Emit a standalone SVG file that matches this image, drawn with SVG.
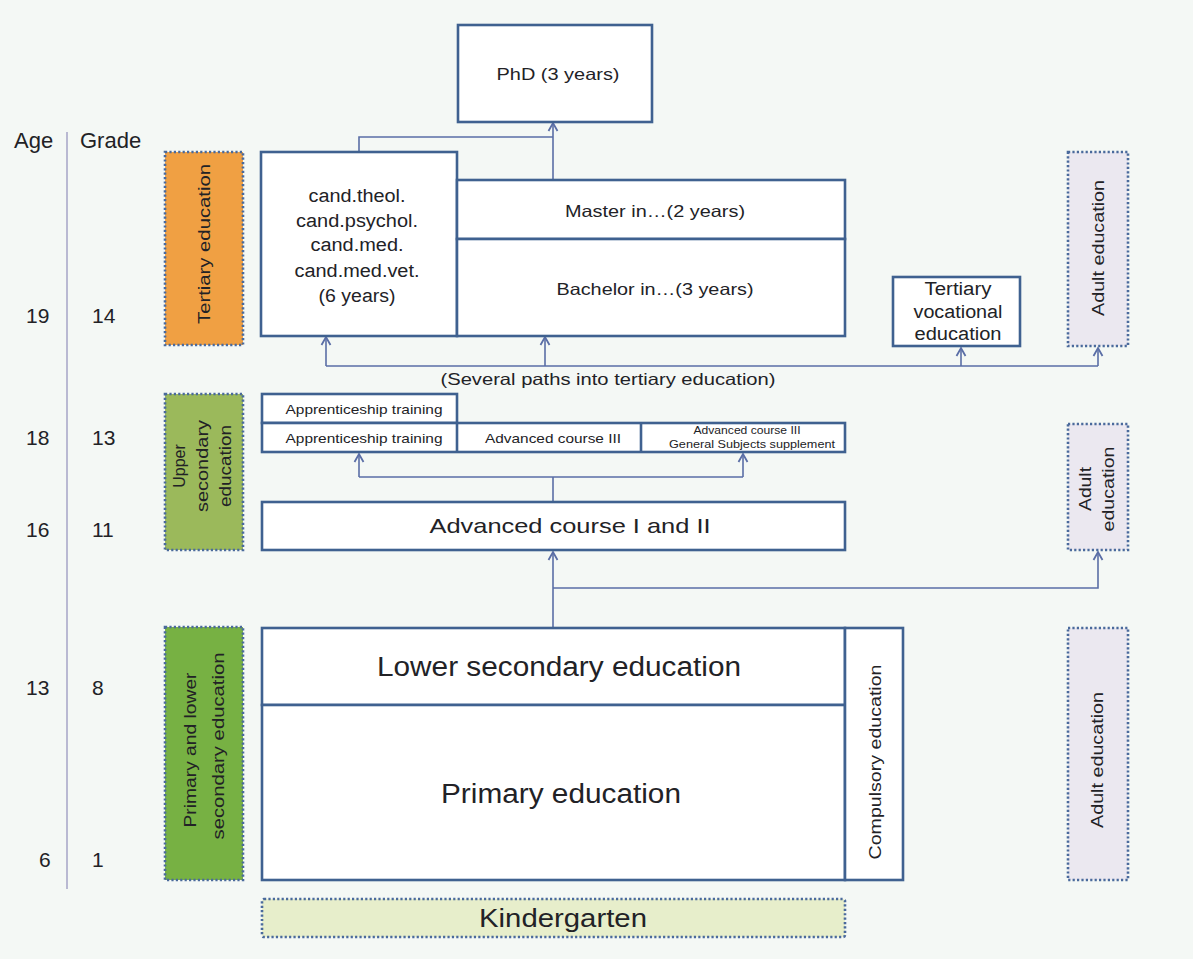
<svg xmlns="http://www.w3.org/2000/svg" width="1193" height="959" viewBox="0 0 1193 959">
<defs>
<marker id="arr" viewBox="-1 -6 11 12" markerWidth="11" markerHeight="12" refX="8" refY="0" orient="auto" markerUnits="userSpaceOnUse">
<path d="M0,-4.5 L8,0 L0,4.5" fill="none" stroke="#5a6ea6" stroke-width="1.8"/>
</marker>
</defs>
<style>
text{font-family:"Liberation Sans",Arial,sans-serif;fill:#222226}
.box{fill:#ffffff;stroke:#3f6190;stroke-width:2.6}
.dot{stroke:#4a6a9c;stroke-width:2.6;stroke-dasharray:2.2 2.2}
.con{fill:none;stroke:#5a6ea6;stroke-width:1.6}
.m{text-anchor:middle}
</style>
<rect x="0" y="0" width="1193" height="959" fill="#f4f8f5"/>

<g id="axis">
<line x1="67" y1="132" x2="67" y2="889" stroke="#b9b9d2" stroke-width="2"/>
<text x="14" y="148" font-size="22">Age</text>
<text x="80" y="148" font-size="22">Grade</text>
<text x="26" y="323" font-size="21">19</text><text x="92" y="323" font-size="21">14</text>
<text x="26" y="445" font-size="21">18</text><text x="92" y="445" font-size="21">13</text>
<text x="26" y="537" font-size="21">16</text><text x="92" y="537" font-size="21">11</text>
<text x="26" y="695" font-size="21">13</text><text x="92" y="695" font-size="21">8</text>
<text x="39" y="867" font-size="21">6</text><text x="92" y="867" font-size="21">1</text>
</g>

<g id="connectors">
<polyline class="con" points="359,152 359,137 553,137"/>
<line class="con" x1="553" y1="180" x2="553" y2="123" marker-end="url(#arr)"/>
<line class="con" x1="326" y1="366" x2="1098" y2="366"/>
<line class="con" x1="326" y1="366" x2="326" y2="337" marker-end="url(#arr)"/>
<line class="con" x1="545" y1="366" x2="545" y2="337" marker-end="url(#arr)"/>
<line class="con" x1="961" y1="366" x2="961" y2="348" marker-end="url(#arr)"/>
<line class="con" x1="1098" y1="366" x2="1098" y2="348" marker-end="url(#arr)"/>
<line class="con" x1="553" y1="501" x2="553" y2="477"/>
<line class="con" x1="359" y1="477" x2="743" y2="477"/>
<line class="con" x1="359" y1="477" x2="359" y2="454" marker-end="url(#arr)"/>
<line class="con" x1="743" y1="477" x2="743" y2="454" marker-end="url(#arr)"/>
<line class="con" x1="553" y1="627" x2="553" y2="552" marker-end="url(#arr)"/>
<polyline class="con" points="553,588 1098,588 1098,552" marker-end="url(#arr)"/>
<text x="608" y="385" font-size="16.5" class="m" textLength="335" lengthAdjust="spacingAndGlyphs">(Several paths into tertiary education)</text>
</g>

<g id="tertiary-label">
<rect class="dot" x="165" y="152" width="78" height="193" fill="#f0a043"/>
<text transform="translate(210,244) rotate(-90)" font-size="16" class="m" textLength="160" lengthAdjust="spacingAndGlyphs">Tertiary education</text>
</g>

<g id="upper-label">
<rect class="dot" x="165" y="394" width="78" height="156" fill="#9bb95b"/>
<text transform="translate(185,466) rotate(-90)" font-size="16" class="m">Upper</text>
<text transform="translate(208,466) rotate(-90)" font-size="16" class="m" textLength="92" lengthAdjust="spacingAndGlyphs">secondary</text>
<text transform="translate(231,466) rotate(-90)" font-size="16" class="m" textLength="82" lengthAdjust="spacingAndGlyphs">education</text>
</g>

<g id="primary-label">
<rect class="dot" x="165" y="627" width="78" height="253" fill="#77b143"/>
<text transform="translate(196,750) rotate(-90)" font-size="16" class="m" textLength="155" lengthAdjust="spacingAndGlyphs">Primary and lower</text>
<text transform="translate(224,746) rotate(-90)" font-size="16" class="m" textLength="187" lengthAdjust="spacingAndGlyphs">secondary education</text>
</g>

<g id="phd">
<rect class="box" x="458" y="25" width="194" height="97"/>
<text x="558" y="80" font-size="16.5" class="m" textLength="123" lengthAdjust="spacingAndGlyphs">PhD (3 years)</text>
</g>

<g id="cand">
<rect class="box" x="261" y="152" width="196" height="184"/>
<text x="357" y="202" font-size="18" class="m" textLength="97" lengthAdjust="spacingAndGlyphs">cand.theol.</text>
<text x="357" y="227" font-size="18" class="m" textLength="122" lengthAdjust="spacingAndGlyphs">cand.psychol.</text>
<text x="357" y="251" font-size="18" class="m" textLength="93" lengthAdjust="spacingAndGlyphs">cand.med.</text>
<text x="357" y="277" font-size="18" class="m" textLength="125" lengthAdjust="spacingAndGlyphs">cand.med.vet.</text>
<text x="357" y="302" font-size="18" class="m" textLength="77" lengthAdjust="spacingAndGlyphs">(6 years)</text>
</g>

<g id="master">
<rect class="box" x="457" y="180" width="388" height="59"/>
<text x="655" y="217" font-size="16.5" class="m" textLength="180" lengthAdjust="spacingAndGlyphs">Master in…(2 years)</text>
</g>

<g id="bachelor">
<rect class="box" x="457" y="239" width="388" height="97"/>
<text x="655" y="295" font-size="16.5" class="m" textLength="197" lengthAdjust="spacingAndGlyphs">Bachelor in…(3 years)</text>
</g>

<g id="tertiary-vocational">
<rect class="box" x="893" y="277" width="127" height="69"/>
<text x="958" y="295" font-size="18" class="m" textLength="67" lengthAdjust="spacingAndGlyphs">Tertiary</text>
<text x="958" y="318" font-size="18" class="m" textLength="89" lengthAdjust="spacingAndGlyphs">vocational</text>
<text x="958" y="340" font-size="18" class="m" textLength="87" lengthAdjust="spacingAndGlyphs">education</text>
</g>

<g id="adult-top">
<rect class="dot" x="1068" y="152" width="60" height="194" fill="#ebe8f0"/>
<text transform="translate(1104,248) rotate(-90)" font-size="16" class="m" textLength="136" lengthAdjust="spacingAndGlyphs">Adult education</text>
</g>

<g id="apprentice-top">
<rect class="box" x="262" y="394" width="195" height="29"/>
<text x="364" y="414" font-size="13.5" class="m" textLength="157" lengthAdjust="spacingAndGlyphs">Apprenticeship training</text>
</g>

<g id="upper-row">
<rect class="box" x="262" y="423" width="583" height="29"/>
<line x1="457" y1="423" x2="457" y2="452" stroke="#3f6190" stroke-width="2.6"/>
<line x1="641" y1="423" x2="641" y2="452" stroke="#3f6190" stroke-width="2.6"/>
<text x="364" y="443" font-size="13.5" class="m" textLength="157" lengthAdjust="spacingAndGlyphs">Apprenticeship training</text>
<text x="553" y="443" font-size="13.5" class="m" textLength="136" lengthAdjust="spacingAndGlyphs">Advanced course III</text>
<text x="747" y="434" font-size="10.5" class="m" textLength="107" lengthAdjust="spacingAndGlyphs">Advanced course III</text>
<text x="752" y="448" font-size="10.5" class="m" textLength="166" lengthAdjust="spacingAndGlyphs">General Subjects supplement</text>
</g>

<g id="advanced">
<rect class="box" x="262" y="502" width="583" height="48"/>
<text x="570" y="533" font-size="21" class="m" textLength="281" lengthAdjust="spacingAndGlyphs">Advanced course  I and II</text>
</g>

<g id="adult-mid">
<rect class="dot" x="1068" y="424" width="60" height="126" fill="#ebe8f0"/>
<text transform="translate(1091,489) rotate(-90)" font-size="16" class="m" textLength="44" lengthAdjust="spacingAndGlyphs">Adult</text>
<text transform="translate(1114,489) rotate(-90)" font-size="16" class="m" textLength="85" lengthAdjust="spacingAndGlyphs">education</text>
</g>

<g id="lower-secondary">
<rect class="box" x="262" y="628" width="583" height="77"/>
<text x="559" y="676" font-size="27" class="m" textLength="364" lengthAdjust="spacingAndGlyphs">Lower secondary education</text>
</g>

<g id="primary">
<rect class="box" x="262" y="705" width="583" height="175"/>
<text x="561" y="803" font-size="27" class="m" textLength="240" lengthAdjust="spacingAndGlyphs">Primary education</text>
</g>

<g id="compulsory">
<rect class="box" x="845" y="628" width="58" height="252"/>
<text transform="translate(881,762) rotate(-90)" font-size="16" class="m" textLength="195" lengthAdjust="spacingAndGlyphs">Compulsory education</text>
</g>

<g id="adult-bottom">
<rect class="dot" x="1068" y="628" width="60" height="252" fill="#ebe8f0"/>
<text transform="translate(1103,760) rotate(-90)" font-size="16" class="m" textLength="136" lengthAdjust="spacingAndGlyphs">Adult education</text>
</g>

<g id="kindergarten">
<rect class="dot" x="262" y="899" width="583" height="38" fill="#e7eecb" rx="2"/>
<text x="563" y="927" font-size="26" class="m" textLength="168" lengthAdjust="spacingAndGlyphs">Kindergarten</text>
</g>
</svg>
